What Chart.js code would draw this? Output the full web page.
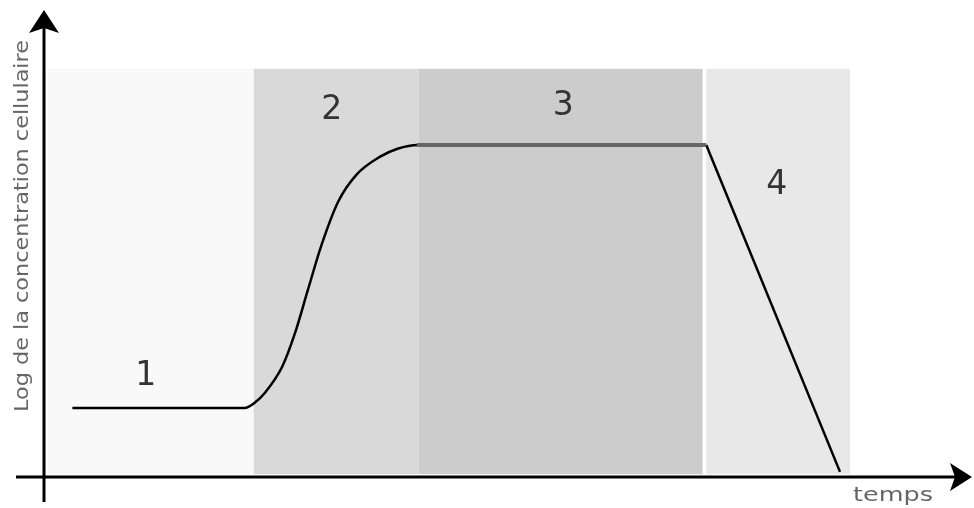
<!DOCTYPE html>
<html>
<head>
<meta charset="utf-8">
<script src="https://cdn.jsdelivr.net/npm/chart.js@4"></script>
<style>
  html, body { margin: 0; padding: 0; background: #fff; }
  #wrap { width: 974px; height: 508px; }
</style>
</head>
<body>
<div id="wrap"><canvas id="growthChart"></canvas></div>
<script>
// phases of the growth curve (x in time units, 0..100)
const phaseLabels = ['1', '2', '3', '4'];
const phaseStart = [0.4, 22.9, 40.9, 72.3];
const phaseEnd = [22.9, 40.9, 71.9, 88.0];
const phaseTop = 87.4;
const phaseBottom = 0.6;
const phaseLabelX = [11.1, 31.4, 56.7, 80.0];
const phaseLabelY = [21.6, 78.6, 79.4, 62.5];
const phaseColors = ['#f9f9f9', '#d9d9d9', '#cccccc', '#e8e8e8'];

// lag + exponential part (runs a little into the plateau, hidden under it)
const growthX = [3.1, 21.9, 23.0, 24.1, 26.0, 27.4, 28.8, 30.3, 32.1, 34.1, 36.7, 38.6, 40.8, 44.0];
const growthY = [14.8, 14.8, 15.9, 18.0, 23.6, 30.8, 40.0, 49.7, 58.9, 64.7, 68.6, 70.3, 71.1, 71.1];
// stationary phase
const plateauX = [40.7, 72.3];
const plateauY = [71.1, 71.1];
// decline
const declineX = [72.3, 86.9];
const declineY = [71.1, 1.1];

const yTitle = 'Log de la concentration cellulaire';
const xTitle = 'temps';

function toPoints(xs, ys) {
  return xs.map((x, i) => ({ x: x, y: ys[i] }));
}

// draw text stretched to a given width (the source picture is widened)
function stretchText(ctx, text, cx, cy, width, angle) {
  const w = ctx.measureText(text).width;
  ctx.save();
  ctx.translate(cx, cy);
  ctx.rotate(angle);
  ctx.scale(width / w, 1);
  ctx.fillText(text, 0, 0);
  ctx.restore();
}

// shaded phases, drawn behind the lines
const phasePlugin = {
  id: 'phases',
  beforeDatasetsDraw: (chart) => {
    const { ctx, scales: { x, y } } = chart;
    ctx.save();
    phaseStart.forEach((s, i) => {
      const x0 = x.getPixelForValue(s);
      const x1 = x.getPixelForValue(phaseEnd[i]);
      const y0 = y.getPixelForValue(phaseTop);
      const y1 = y.getPixelForValue(phaseBottom);
      ctx.fillStyle = phaseColors[i];
      ctx.fillRect(x0, y0, x1 - x0, y1 - y0);
    });
    ctx.fillStyle = '#333';
    ctx.font = '33px "DejaVu Sans"';
    ctx.textAlign = 'center';
    ctx.textBaseline = 'middle';
    phaseLabels.forEach((lab, i) => {
      ctx.fillText(lab, x.getPixelForValue(phaseLabelX[i]), y.getPixelForValue(phaseLabelY[i]));
    });
    ctx.restore();
  }
};

// arrow axes and titles
const axesPlugin = {
  id: 'arrowAxes',
  afterDatasetsDraw: (chart) => {
    const { ctx, chartArea: a } = chart;
    ctx.save();
    ctx.strokeStyle = '#000';
    ctx.fillStyle = '#000';
    ctx.lineWidth = 3;
    // y axis
    ctx.beginPath();
    ctx.moveTo(a.left, a.bottom + 25);
    ctx.lineTo(a.left, a.top + 15);
    ctx.stroke();
    ctx.beginPath();
    ctx.moveTo(a.left, a.top);
    ctx.lineTo(a.left - 15, a.top + 23);
    ctx.lineTo(a.left, a.top + 18);
    ctx.lineTo(a.left + 15, a.top + 23);
    ctx.closePath();
    ctx.fill();
    // x axis
    ctx.beginPath();
    ctx.moveTo(a.left - 28, a.bottom);
    ctx.lineTo(a.right - 5, a.bottom);
    ctx.stroke();
    ctx.beginPath();
    ctx.moveTo(a.right + 12, a.bottom);
    ctx.lineTo(a.right - 10, a.bottom - 14);
    ctx.lineTo(a.right - 5, a.bottom);
    ctx.lineTo(a.right - 10, a.bottom + 14);
    ctx.closePath();
    ctx.fill();
    // titles
    ctx.fillStyle = '#666';
    ctx.font = '19px "DejaVu Sans"';
    ctx.textAlign = 'center';
    ctx.textBaseline = 'middle';
    stretchText(ctx, xTitle, 893, a.bottom + 19, 80, 0);
    stretchText(ctx, yTitle, 23, 226, 372, -Math.PI / 2);
    ctx.restore();
  }
};

new Chart(document.getElementById('growthChart'), {
  type: 'line',
  data: {
    datasets: [
      {
        data: toPoints(growthX, growthY),
        borderColor: '#000',
        borderWidth: 2.5,
        pointRadius: 0,
        cubicInterpolationMode: 'monotone',
        order: 2
      },
      {
        data: toPoints(plateauX, plateauY),
        borderColor: '#666',
        borderWidth: 4,
        pointRadius: 0,
        order: 0
      },
      {
        data: toPoints(declineX, declineY),
        borderColor: '#000',
        borderWidth: 2.5,
        pointRadius: 0,
        order: 1
      }
    ]
  },
  options: {
    responsive: true,
    maintainAspectRatio: false,
    animation: false,
    layout: { padding: { left: 44, right: 14, top: 10, bottom: 31 } },
    plugins: { legend: { display: false }, tooltip: { enabled: false } },
    scales: {
      x: { type: 'linear', min: 0, max: 100, display: false },
      y: { min: 0, max: 100, display: false }
    }
  },
  plugins: [phasePlugin, axesPlugin]
});
</script>
</body>
</html>
